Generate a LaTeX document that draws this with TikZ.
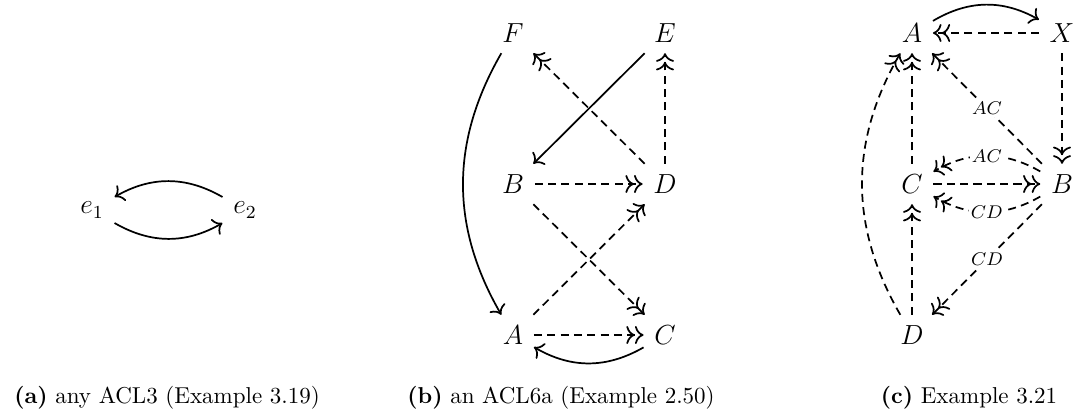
\documentclass[tikz,border=0pt]{standalone}
\usetikzlibrary{arrows.meta}
\begin{document}
\begin{tikzpicture}[x=0.435pt,y=-0.435pt,
  >={To[scale=1.15]},
  obj/.style={inner sep=4.5pt,font=\fontsize{12}{14}\selectfont},
  lab/.style={fill=white,inner sep=1pt,font=\fontsize{8}{9.6}\selectfont},
  captext/.style={font=\fontsize{10}{12}\selectfont,anchor=base},
  sol/.style={->,line width=0.75pt},
  dsh/.style={->>,line width=0.75pt,dash pattern=on 3.5pt off 2.3pt}]
\useasboundingbox (0,0) rectangle (1077,418);
% panel (a)
\node[obj] (e1) at (92,210) {$e_1$};
\node[obj] (e2) at (245,210) {$e_2$};
\draw[sol] (e2) to[bend right=30] (e1);
\draw[sol] (e1) to[bend right=30] (e2);
% panel (b)
\node[obj] (bF) at (513,33) {$F$};
\node[obj] (bE) at (665,33) {$E$};
\node[obj] (bB) at (513,184) {$B$};
\node[obj] (bD) at (665,184) {$D$};
\node[obj] (bA) at (513,335) {$A$};
\node[obj] (bC) at (665,335) {$C$};
\draw[sol] (bF) to[bend right=30] (bA);
\draw[sol] (bE) -- (bB);
\draw[dsh] (bD) -- (bF);
\draw[dsh] (bD) -- (bE);
\draw[dsh] (bB) -- (bD);
\draw[dsh] (bB) -- (bC);
\draw[dsh] (bA) -- (bD);
\draw[dsh] (bA) -- (bC);
\draw[sol] (bC) to[bend left=30] (bA);
% panel (c)
\node[obj] (cA) at (912,33) {$A$};
\node[obj] (cX) at (1062,33) {$X$};
\node[obj] (cC) at (912,184) {$C$};
\node[obj] (cB) at (1062,184) {$B$};
\node[obj] (cD) at (912,335) {$D$};
\draw[sol] (cA) to[bend left=30] (cX);
\draw[dsh] (cX) -- (cA);
\draw[dsh] (cX) -- (cB);
\draw[dsh] (cB) -- node[lab] {$AC$} (cA);
\draw[dsh] (cB) to[bend right=30] node[lab] {$AC$} (cC);
\draw[dsh] (cC) -- (cB);
\draw[dsh] (cB) to[bend left=30] node[lab] {$CD$} (cC);
\draw[dsh] (cB) -- node[lab] {$CD$} (cD);
\draw[dsh] (cC) -- (cA);
\draw[dsh] (cD) -- (cC);
\draw[dsh] (cD) to[bend left=30] (cA);
% captions
\node[captext] (capa) at (167,403) {\textbf{(a)} any ACL3 (Example 3.19)};
\node[captext] (capb) at (561,403) {\textbf{(b)} an ACL6a (Example 2.50)};
\node[captext] (capc) at (969,403) {\textbf{(c)} Example 3.21};
\end{tikzpicture}
\end{document}
